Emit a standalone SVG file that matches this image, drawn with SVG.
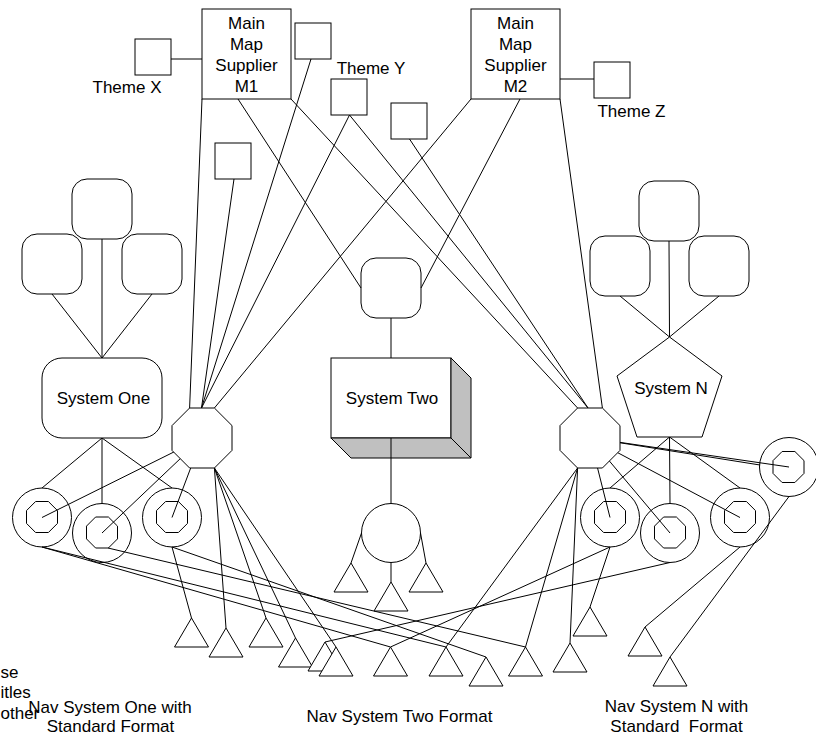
<svg xmlns="http://www.w3.org/2000/svg" xmlns:xlink="http://www.w3.org/1999/xlink" width="816" height="737" viewBox="0 0 816 737">
  <style>
    .s { fill: #fff; stroke: #000; stroke-width: 1; }
    .n { fill: none; stroke: #000; stroke-width: 1; }
    .shade { fill: #c0c0c0; stroke: #000; stroke-width: 1; }
    .t { font-family: "Liberation Sans", Arial, sans-serif; font-size: 17px; fill: #000; text-anchor: middle; }
    .ts { font-family: "Liberation Sans", Arial, sans-serif; font-size: 17px; fill: #000; text-anchor: start; }
    #links line { stroke: #000; stroke-width: 1; }
  </style>
  <defs>
    <path id="tri" d="M0,0 L-17,29 L17,29 Z" class="s"/>
    <polygon id="octS" points="-6.4,-15.5 6.4,-15.5 15.5,-6.4 15.5,6.4 6.4,15.5 -6.4,15.5 -15.5,6.4 -15.5,-6.4" class="n"/>
    <polygon id="octL" points="-12.4,-30 12.4,-30 30,-12.4 30,12.4 12.4,30 -12.4,30 -30,12.4 -30,-12.4" class="s"/>
    <rect id="rbox" x="-30" y="-30" width="60" height="60" rx="15" ry="15" class="s"/>
    <rect id="sq" x="0" y="0" width="36" height="36" class="s"/>
  </defs>

  <rect width="816" height="737" fill="#fff"/>

  <!-- suppliers and themes -->
  <g id="m1">
    <rect x="202" y="9" width="89" height="90" class="s"/>
    <text class="t" x="246.5" y="28.5">Main</text>
    <text class="t" x="246.5" y="49.5">Map</text>
    <text class="t" x="246.5" y="70.5">Supplier</text>
    <text class="t" x="246.5" y="91.5">M1</text>
  </g>
  <g id="m2">
    <rect x="471" y="9" width="89" height="90" class="s"/>
    <text class="t" x="515.5" y="28.5">Main</text>
    <text class="t" x="515.5" y="49.5">Map</text>
    <text class="t" x="515.5" y="70.5">Supplier</text>
    <text class="t" x="515.5" y="91.5">M2</text>
  </g>
  <g id="theme-x">
    <use xlink:href="#sq" x="135" y="39"/>
    <text class="t" x="127" y="92.5">Theme X</text>
  </g>
  <g id="theme-y">
    <use xlink:href="#sq" x="331" y="79"/>
    <text class="t" x="371" y="74">Theme Y</text>
  </g>
  <g id="theme-z">
    <use xlink:href="#sq" x="594" y="62"/>
    <text class="t" x="631.5" y="117">Theme Z</text>
  </g>
  <g id="theme-a"><use xlink:href="#sq" x="295" y="23"/></g>
  <g id="theme-b"><use xlink:href="#sq" x="391" y="103"/></g>
  <g id="theme-c"><use xlink:href="#sq" x="215" y="143"/></g>

  <!-- connectors -->
  <g id="links">
    <line x1="171" y1="59" x2="202" y2="59"/>
    <line x1="560" y1="79" x2="594" y2="79"/>
    <line x1="202" y1="99" x2="189.6" y2="408"/>
    <line x1="234" y1="179" x2="201.5" y2="408"/>
    <line x1="311" y1="59" x2="201.5" y2="408"/>
    <line x1="349.5" y1="115" x2="201.5" y2="408"/>
    <line x1="471" y1="99" x2="214.4" y2="408"/>
    <line x1="238" y1="99" x2="361" y2="288"/>
    <line x1="291" y1="99" x2="577.6" y2="408"/>
    <line x1="349.5" y1="115" x2="588" y2="408"/>
    <line x1="409.5" y1="139" x2="588" y2="408"/>
    <line x1="520" y1="99" x2="421" y2="288"/>
    <line x1="560" y1="99" x2="602.4" y2="408"/>

    <line x1="102" y1="239" x2="102" y2="358"/>
    <line x1="52" y1="294" x2="102" y2="358"/>
    <line x1="152" y1="294" x2="102" y2="358"/>
    <line x1="102" y1="438" x2="42" y2="488"/>
    <line x1="102" y1="438" x2="102" y2="503.5"/>
    <line x1="102" y1="438" x2="172" y2="488"/>
    <line x1="202" y1="438" x2="42" y2="517.5"/>
    <line x1="202" y1="438" x2="102" y2="533"/>
    <line x1="202" y1="438" x2="172" y2="517.5"/>
    <line x1="214.4" y1="468" x2="226" y2="628"/>
    <line x1="214.4" y1="468" x2="266" y2="618"/>
    <line x1="214.4" y1="468" x2="295.5" y2="638"/>
    <line x1="214.4" y1="468" x2="336" y2="647"/>
    <line x1="172" y1="547" x2="191.5" y2="618"/>
    <line x1="172" y1="547" x2="486" y2="657"/>
    <line x1="42" y1="547" x2="390.5" y2="647"/>
    <line x1="42" y1="547" x2="446" y2="647"/>
    <line x1="108" y1="548" x2="525.5" y2="647"/>

    <line x1="391" y1="318" x2="391" y2="358"/>
    <line x1="391" y1="438" x2="391" y2="503.5"/>
    <line x1="361.5" y1="533" x2="351" y2="563"/>
    <line x1="391" y1="562.5" x2="391" y2="582"/>
    <line x1="420.5" y1="533" x2="426" y2="563"/>

    <line x1="669" y1="241" x2="669.5" y2="337"/>
    <line x1="620" y1="296" x2="669.5" y2="337"/>
    <line x1="719" y1="296" x2="669.5" y2="337"/>
    <line x1="669.5" y1="437" x2="610" y2="488"/>
    <line x1="669.5" y1="437" x2="670" y2="503.5"/>
    <line x1="669.5" y1="437" x2="740" y2="488"/>
    <line x1="590" y1="438" x2="610" y2="517.5"/>
    <line x1="590" y1="438" x2="670" y2="533"/>
    <line x1="590" y1="438" x2="740" y2="517.5"/>
    <line x1="590" y1="438" x2="789" y2="467"/>
    <line x1="590" y1="438" x2="760" y2="465"/>
    <line x1="577.6" y1="468" x2="446" y2="647"/>
    <line x1="577.6" y1="468" x2="525.5" y2="647"/>
    <line x1="577.6" y1="468" x2="570" y2="643"/>
    <line x1="610" y1="547" x2="590" y2="607"/>
    <line x1="610" y1="547" x2="390.5" y2="647"/>
    <line x1="670" y1="562.5" x2="325" y2="642"/>
    <line x1="740" y1="547" x2="645" y2="627"/>
    <line x1="789" y1="496.5" x2="670" y2="657"/>
  </g>

  <!-- system one cluster -->
  <g id="one-a"><use xlink:href="#rbox" x="102" y="209"/></g>
  <g id="one-b"><use xlink:href="#rbox" x="52" y="264"/></g>
  <g id="one-c"><use xlink:href="#rbox" x="152" y="264"/></g>
  <g id="system-one">
    <rect x="42" y="358" width="120" height="80" rx="20" ry="20" class="s"/>
    <text class="t" x="103.5" y="404">System One</text>
  </g>
  <g id="hub-left"><use xlink:href="#octL" x="202" y="438"/></g>
  <g id="nav1-a">
    <circle cx="42" cy="517.5" r="29.5" class="n"/>
    <use xlink:href="#octS" x="42" y="517"/>
  </g>
  <g id="nav1-b">
    <circle cx="102" cy="533" r="29.5" class="n"/>
    <use xlink:href="#octS" x="102" y="532.5"/>
  </g>
  <g id="nav1-c">
    <circle cx="172" cy="517.5" r="29.5" class="n"/>
    <use xlink:href="#octS" x="172" y="517"/>
  </g>

  <!-- system two cluster -->
  <g id="two-a"><rect x="361" y="258" width="60" height="60" rx="15" ry="15" class="n"/></g>
  <g id="system-two">
    <rect x="331" y="358" width="120" height="80" class="s"/>
    <polygon points="451,358 471,378 471,458 451,438" class="shade"/>
    <polygon points="331,438 451,438 471,458 351,458" class="shade"/>
    <line x1="391" y1="438" x2="391" y2="458" stroke="#000" stroke-width="1"/>
    <text class="t" x="392" y="404">System Two</text>
  </g>
  <g id="two-hub"><circle cx="391" cy="533" r="29.5" class="n"/></g>

  <!-- system n cluster -->
  <g id="n-a"><use xlink:href="#rbox" x="669" y="211"/></g>
  <g id="n-b"><use xlink:href="#rbox" x="620" y="266"/></g>
  <g id="n-c"><use xlink:href="#rbox" x="719" y="266"/></g>
  <g id="system-n">
    <polygon points="669.5,337 722,376 702,437 637,437 617,376" class="s"/>
    <text class="t" x="671" y="394">System N</text>
  </g>
  <g id="hub-right"><use xlink:href="#octL" x="590" y="438"/></g>
  <g id="navn-a">
    <circle cx="610" cy="517.5" r="29.5" class="n"/>
    <use xlink:href="#octS" x="610" y="517"/>
  </g>
  <g id="navn-b">
    <circle cx="670" cy="533" r="29.5" class="n"/>
    <use xlink:href="#octS" x="670" y="532.5"/>
  </g>
  <g id="navn-c">
    <circle cx="740" cy="517.5" r="29.5" class="n"/>
    <use xlink:href="#octS" x="740" y="517"/>
  </g>
  <g id="navn-d">
    <circle cx="789" cy="467" r="29.5" class="n"/>
    <use xlink:href="#octS" x="788.5" y="467"/>
  </g>

  <!-- terminals -->
  <g id="term-c1"><use xlink:href="#tri" x="351" y="563"/></g>
  <g id="term-c2"><use xlink:href="#tri" x="391" y="582"/></g>
  <g id="term-c3"><use xlink:href="#tri" x="426" y="563"/></g>
  <g id="term-1"><use xlink:href="#tri" x="191.5" y="618"/></g>
  <g id="term-2"><use xlink:href="#tri" x="226" y="628"/></g>
  <g id="term-3"><use xlink:href="#tri" x="266" y="618"/></g>
  <g id="term-4"><use xlink:href="#tri" x="295.5" y="638"/></g>
  <g id="term-5"><use xlink:href="#tri" x="325" y="642"/></g>
  <g id="term-6"><use xlink:href="#tri" x="336" y="647"/></g>
  <g id="term-7"><use xlink:href="#tri" x="390.5" y="647"/></g>
  <g id="term-8"><use xlink:href="#tri" x="446" y="647"/></g>
  <g id="term-9"><use xlink:href="#tri" x="486" y="657"/></g>
  <g id="term-10"><use xlink:href="#tri" x="525.5" y="647"/></g>
  <g id="term-11"><use xlink:href="#tri" x="570" y="643"/></g>
  <g id="term-12"><use xlink:href="#tri" x="590" y="607"/></g>
  <g id="term-13"><use xlink:href="#tri" x="645" y="627"/></g>
  <g id="term-14"><use xlink:href="#tri" x="670" y="657"/></g>

  <!-- captions -->
  <g id="captions">
    <text class="ts" x="0.5" y="678">se</text>
    <text class="ts" x="0.5" y="698">itles</text>
    <text class="ts" x="0.5" y="719">other</text>
    <text class="t" x="110" y="713">Nav System One with</text>
    <text class="t" x="110.5" y="731.5">Standard Format</text>
    <text class="t" x="399.5" y="721.5">Nav System Two Format</text>
    <text class="t" x="676.5" y="711.5">Nav System N with</text>
    <text class="t" x="676.5" y="731.5" xml:space="preserve">Standard  Format</text>
  </g>
</svg>
